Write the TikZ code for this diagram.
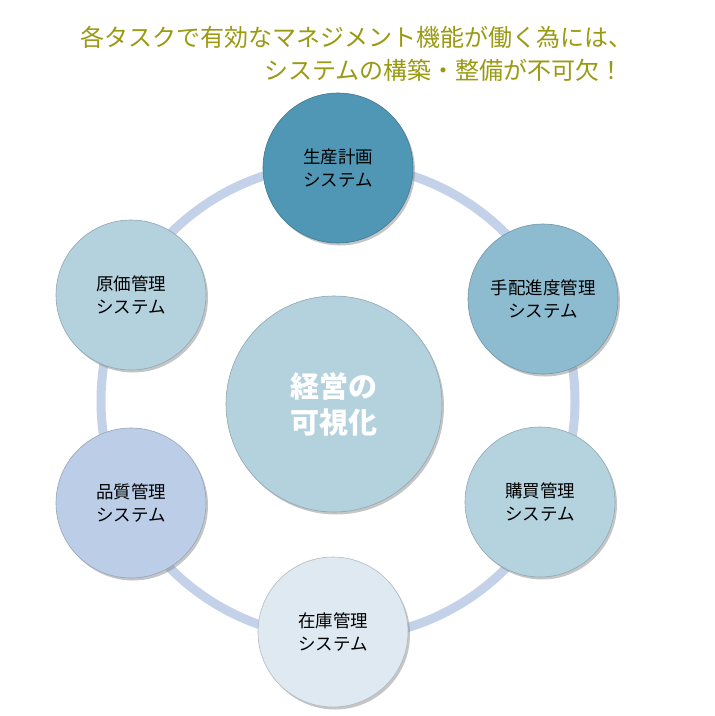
\documentclass[tikz,border=0pt]{standalone}
\usepackage{fontspec}
\setmainfont{Noto Sans CJK JP}
\usetikzlibrary{shadows}
\definecolor{titleol}{HTML}{9A9A12}
\definecolor{ringc}{HTML}{C3D2E8}
\definecolor{cA}{HTML}{5097B5}
\definecolor{cB}{HTML}{8DBCD0}
\definecolor{cC}{HTML}{B4D1DE}
\definecolor{cD}{HTML}{B5D3DF}
\definecolor{cE}{HTML}{BCCEE7}
\definecolor{cF}{HTML}{DFE9F1}
\tikzset{
  titletext/.style={text=titleol, font=\fontsize{24}{28}\selectfont, inner sep=0pt},
  sysnode/.style={circle, minimum size=150pt, inner sep=0pt, align=center, text=black,
    font=\fontsize{17.5}{23}\selectfont, draw=#1!80!black, line width=0.6pt, fill=#1,
    drop shadow={shadow xshift=2pt, shadow yshift=-2.5pt, opacity=0.45, fill=gray}},
  centernode/.style={circle, minimum size=216pt, inner sep=0pt, align=center, text=white,
    font=\bfseries\fontsize{29}{36}\selectfont, draw=cC!80!black, line width=0.6pt, fill=cC,
    drop shadow={shadow xshift=2pt, shadow yshift=-2.5pt, opacity=0.45, fill=gray}},
  ringnode/.style={circle, minimum size=474pt, inner sep=0pt, draw=ringc, line width=9pt}
}
\begin{document}
\begin{tikzpicture}[x=1pt,y=-1pt]
\useasboundingbox (0,0) rectangle (715,716);
\fill[white] (0,0) rectangle (715,716);
\node[titletext, anchor=west] (t1) at (80,37) {各タスクで有効なマネジメント機能が働く為には、};
\node[titletext, anchor=west] (t2) at (264,70) {システムの構築・整備が不可欠！};
\node[ringnode] (ring) at (338,401) {};
\node[centernode] (c) at (334,404) {経営の\\可視化};
\node[sysnode=cA] (n1) at (338,168) {生産計画\\システム};
\node[sysnode=cB] (n2) at (543,299) {手配進度管理\\システム};
\node[sysnode=cD] (n3) at (540,502) {購買管理\\システム};
\node[sysnode=cF] (n4) at (333,632) {在庫管理\\システム};
\node[sysnode=cE] (n5) at (131,503) {品質管理\\システム};
\node[sysnode=cC] (n6) at (131,295) {原価管理\\システム};
\end{tikzpicture}
\end{document}
